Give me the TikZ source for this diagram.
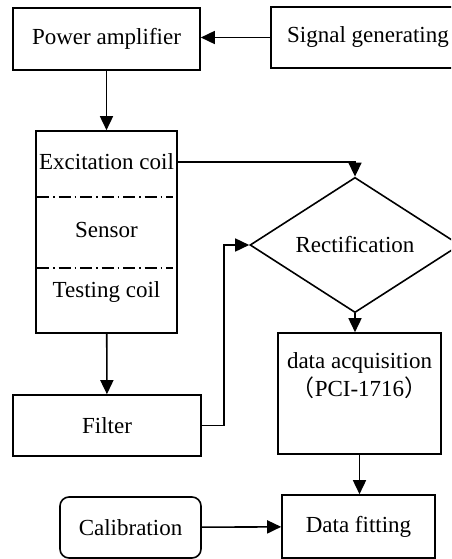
\documentclass[tikz,border=0pt]{standalone}
\usepackage{fontspec}
\setmainfont{Liberation Serif}
\newfontfamily\cjkfont{Noto Sans CJK SC}
\usepackage{tikz}
\usetikzlibrary{shapes.geometric, arrows.meta, positioning}

\begin{document}
\begin{tikzpicture}[
    x=1pt, y=-1pt,
    block/.style={rectangle, draw, line width=1.6pt, inner sep=0pt, font=\fontsize{23}{28}\selectfont},
    rblock/.style={block, rounded corners=9pt},
    decision/.style={diamond, draw, line width=1.6pt, inner sep=0pt, minimum width=210pt, minimum height=98pt, font=\fontsize{23}{28}\selectfont},
    label/.style={inner sep=0pt, font=\fontsize{23}{28}\selectfont},
    divider/.style={line width=1.2pt, dash pattern=on 12pt off 4pt on 1.5pt off 4pt},
    relation/.style={-{Triangle[length=14pt, width=13pt]}, line width=1.6pt}
]
\useasboundingbox (0,0) rectangle (451,559);
\clip (0,0) rectangle (451,559);

% Blocks
\node[block, minimum width=187pt, minimum height=62pt] (amp) at (106.5,39) {Power amplifier};
\node[block, minimum width=194pt, minimum height=61pt] (signal) at (368,37.5) {Signal generating};

\node[block, minimum width=141pt, minimum height=202pt] (sensor) at (106.5,232) {};
\node[label] (excit) at (106.5,162) {Excitation coil};
\node[label] (sens) at (106.5,230) {Sensor};
\node[label] (test) at (106.5,292) {Testing coil};
\coordinate (cut1) at (0,197);
\coordinate (cut2) at (0,268);

\node[block, minimum width=188pt, minimum height=61pt] (filter) at (107,425.5) {Filter};
\node[decision] (rectif) at (355,245) {Rectification};

\node[block, minimum width=163pt, minimum height=121pt] (daq) at (359.5,393.5) {};
\node[label, align=center] (daqtext) at (359.5,376) {data acquisition\\{\cjkfont （}PCI-1716{\cjkfont ）}};

\node[block, minimum width=153pt, minimum height=63pt] (fitting) at (358.5,526.5) {Data fitting};
\node[rblock, minimum width=141pt, minimum height=61pt] (calib) at (130.5,527.5) {Calibration};

% Sensor dividers
\draw[divider] ([xshift=2pt]sensor.west |- cut1) -- ([xshift=-5pt]sensor.east |- cut1);
\draw[divider] ([xshift=2pt]sensor.west |- cut2) -- ([xshift=-5pt]sensor.east |- cut2);

% Relations
\draw[relation] (signal.west) -- (signal.west -| amp.east);
\draw[relation] (amp) -- (sensor);
\draw[relation] (sensor) -- (filter);
\draw[relation] (sensor.east |- excit) -| (rectif.north);
\draw[relation] (filter.east) -- ++(22,0) |- (rectif.west);
\draw[relation] (rectif.south) -- (rectif.south |- daq.north);
\draw[relation] (daq.south) -- (daq.south |- fitting.north);
\draw[relation] (calib) -- (fitting);

\end{tikzpicture}
\end{document}
